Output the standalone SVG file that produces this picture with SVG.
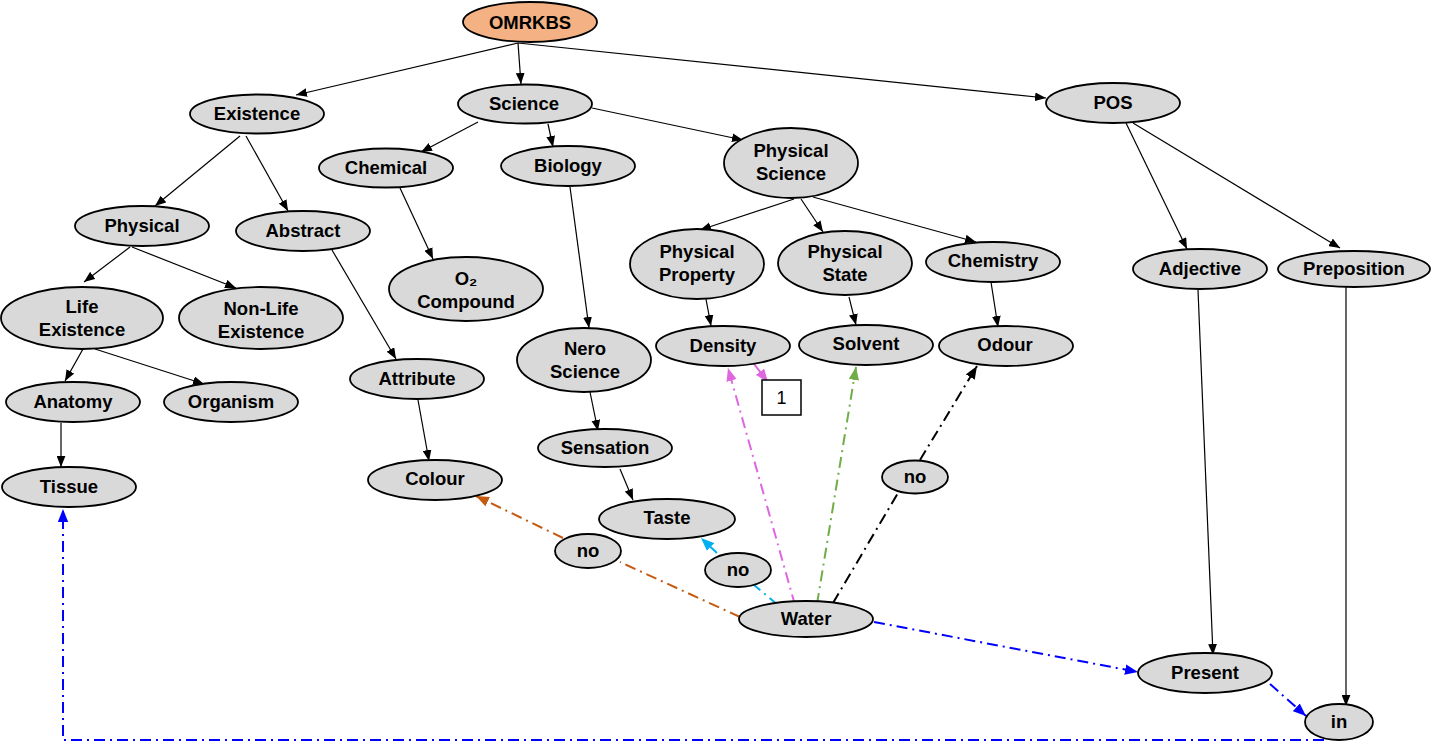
<svg xmlns="http://www.w3.org/2000/svg" width="1431" height="741" viewBox="0 0 1431 741">
<style>
.n ellipse{fill:#d9d9d9;stroke:#000;stroke-width:1.8}
.n text{font-family:"Liberation Sans",Arial,sans-serif;font-weight:bold;font-size:18.5px;text-anchor:middle;fill:#000}
.e line,.e polyline{fill:none}
.s{stroke:#000;stroke-width:1.2}
.d{stroke-width:2;stroke-dasharray:11 5 2 5}
</style>
<defs>
<marker id="ak" viewBox="0 0 10 8" refX="10" refY="4" markerWidth="11" markerHeight="9" markerUnits="userSpaceOnUse" orient="auto"><path d="M0,0L10,4L0,8z" fill="#000"/></marker>
<marker id="ap" viewBox="0 0 10 8" refX="10" refY="4" markerWidth="13" markerHeight="11" markerUnits="userSpaceOnUse" orient="auto"><path d="M0,0L10,4L0,8z" fill="#e066e0"/></marker>
<marker id="ag" viewBox="0 0 10 8" refX="10" refY="4" markerWidth="13" markerHeight="11" markerUnits="userSpaceOnUse" orient="auto"><path d="M0,0L10,4L0,8z" fill="#70ad47"/></marker>
<marker id="ac" viewBox="0 0 10 8" refX="10" refY="4" markerWidth="13" markerHeight="11" markerUnits="userSpaceOnUse" orient="auto"><path d="M0,0L10,4L0,8z" fill="#00b0f0"/></marker>
<marker id="ao" viewBox="0 0 10 8" refX="10" refY="4" markerWidth="13" markerHeight="11" markerUnits="userSpaceOnUse" orient="auto"><path d="M0,0L10,4L0,8z" fill="#c55a11"/></marker>
<marker id="ab" viewBox="0 0 10 8" refX="10" refY="4" markerWidth="13" markerHeight="11" markerUnits="userSpaceOnUse" orient="auto"><path d="M0,0L10,4L0,8z" fill="#0000ff"/></marker>
<marker id="akd" viewBox="0 0 10 8" refX="10" refY="4" markerWidth="13" markerHeight="11" markerUnits="userSpaceOnUse" orient="auto"><path d="M0,0L10,4L0,8z" fill="#000"/></marker>
</defs>
<g id="connectors" class="e">
<line class="s" x1="518" y1="43" x2="296" y2="95" marker-end="url(#ak)"/>
<line class="s" x1="518" y1="43" x2="521" y2="84" marker-end="url(#ak)"/>
<line class="s" x1="518" y1="43" x2="1046" y2="98" marker-end="url(#ak)"/>
<line class="s" x1="240" y1="136" x2="155" y2="206" marker-end="url(#ak)"/>
<line class="s" x1="246" y1="136" x2="288" y2="211" marker-end="url(#ak)"/>
<line class="s" x1="478" y1="122" x2="421" y2="152" marker-end="url(#ak)"/>
<line class="s" x1="548" y1="124" x2="553" y2="147" marker-end="url(#ak)"/>
<line class="s" x1="592" y1="108" x2="743" y2="140" marker-end="url(#ak)"/>
<line class="s" x1="400" y1="188" x2="433" y2="259" marker-end="url(#ak)"/>
<line class="s" x1="332" y1="250" x2="396" y2="359" marker-end="url(#ak)"/>
<line class="s" x1="130" y1="247" x2="84" y2="282" marker-end="url(#ak)"/>
<line class="s" x1="132" y1="247" x2="236" y2="288" marker-end="url(#ak)"/>
<line class="s" x1="83" y1="349" x2="65" y2="381" marker-end="url(#ak)"/>
<line class="s" x1="95" y1="349" x2="204" y2="384" marker-end="url(#ak)"/>
<line class="s" x1="61" y1="423" x2="61" y2="467" marker-end="url(#ak)"/>
<line class="s" x1="418" y1="400" x2="429" y2="461" marker-end="url(#ak)"/>
<line class="s" x1="570" y1="187" x2="589" y2="328" marker-end="url(#ak)"/>
<line class="s" x1="794" y1="199" x2="700" y2="230" marker-end="url(#ak)"/>
<line class="s" x1="801" y1="199" x2="823" y2="232" marker-end="url(#ak)"/>
<line class="s" x1="813" y1="197" x2="976" y2="242" marker-end="url(#ak)"/>
<line class="s" x1="706" y1="299" x2="711" y2="326" marker-end="url(#ak)"/>
<line class="s" x1="849" y1="297" x2="856" y2="325" marker-end="url(#ak)"/>
<line class="s" x1="991" y1="282" x2="998" y2="327" marker-end="url(#ak)"/>
<line class="s" x1="1126" y1="123" x2="1187" y2="249" marker-end="url(#ak)"/>
<line class="s" x1="1133" y1="123" x2="1340" y2="248" marker-end="url(#ak)"/>
<line class="s" x1="1198" y1="290" x2="1213" y2="655" marker-end="url(#ak)"/>
<line class="s" x1="1346" y1="287" x2="1346" y2="706" marker-end="url(#ak)"/>
<line class="s" x1="590" y1="392" x2="598" y2="431" marker-end="url(#ak)"/>
<line class="s" x1="620" y1="469" x2="633" y2="500" marker-end="url(#ak)"/>
<line class="d" stroke="#e066e0" x1="795" y1="605" x2="728" y2="368" marker-end="url(#ap)"/>
<line class="d" stroke="#e066e0" x1="754" y1="364" x2="768" y2="382" marker-end="url(#ap)"/>
<line class="d" stroke="#70ad47" x1="817" y1="604" x2="856" y2="367" marker-end="url(#ag)"/>
<line class="d" stroke="#000" x1="833" y1="603" x2="898" y2="493"/>
<line class="d" stroke="#000" x1="920" y1="460" x2="977" y2="366" marker-end="url(#akd)"/>
<line class="d" stroke="#00b0f0" x1="778" y1="605" x2="754" y2="585"/>
<line class="d" stroke="#00b0f0" x1="717" y1="553" x2="701" y2="538" marker-end="url(#ac)"/>
<line class="d" stroke="#c55a11" x1="740" y1="617" x2="620" y2="562"/>
<line class="d" stroke="#c55a11" x1="563" y1="538" x2="476" y2="496" marker-end="url(#ao)"/>
<line class="d" stroke="#0000ff" x1="874" y1="622" x2="1138" y2="672" marker-end="url(#ab)"/>
<line class="d" stroke="#0000ff" x1="1270" y1="684" x2="1306" y2="716" marker-end="url(#ab)"/>
<polyline class="d" stroke="#0000ff" points="1324,740 63,740 63,509" marker-end="url(#ab)"/>
</g>
<g id="OMRKBS" class="n"><ellipse cx="530" cy="22" rx="67" ry="20" style="fill:#f4b183"/><text x="530" y="28.5">OMRKBS</text></g>
<g id="Existence" class="n"><ellipse cx="257" cy="114" rx="67" ry="19.5"/><text x="257" y="120">Existence</text></g>
<g id="Science" class="n"><ellipse cx="525" cy="104" rx="67" ry="19.5"/><text x="524" y="110">Science</text></g>
<g id="POS" class="n"><ellipse cx="1113" cy="103" rx="67" ry="20"/><text x="1113" y="109">POS</text></g>
<g id="Chemical" class="n"><ellipse cx="386" cy="168" rx="67" ry="19.5"/><text x="386" y="174">Chemical</text></g>
<g id="Biology" class="n"><ellipse cx="568" cy="166" rx="67" ry="20"/><text x="568" y="172">Biology</text></g>
<g id="PhysicalScience" class="n"><ellipse cx="791" cy="163" rx="67" ry="35"/><text x="791" y="157">Physical</text><text x="791" y="180">Science</text></g>
<g id="Physical" class="n"><ellipse cx="142" cy="226" rx="67" ry="20"/><text x="142" y="232">Physical</text></g>
<g id="Abstract" class="n"><ellipse cx="303" cy="231" rx="67" ry="20"/><text x="303" y="237">Abstract</text></g>
<g id="LifeExistence" class="n"><ellipse cx="82" cy="318" rx="81" ry="31"/><text x="82" y="313">Life</text><text x="82" y="336">Existence</text></g>
<g id="NonLifeExistence" class="n"><ellipse cx="261" cy="318" rx="82" ry="31"/><text x="261" y="315">Non-Life</text><text x="261" y="338">Existence</text></g>
<g id="O2Compound" class="n"><ellipse cx="466" cy="289" rx="77" ry="32"/><text x="466" y="285">O₂</text><text x="466" y="308">Compound</text></g>
<g id="PhysicalProperty" class="n"><ellipse cx="697" cy="264" rx="67" ry="35"/><text x="697" y="258">Physical</text><text x="697" y="281">Property</text></g>
<g id="PhysicalState" class="n"><ellipse cx="845" cy="263" rx="67" ry="32"/><text x="845" y="258">Physical</text><text x="845" y="281">State</text></g>
<g id="Chemistry" class="n"><ellipse cx="993" cy="262" rx="67" ry="20"/><text x="993" y="267">Chemistry</text></g>
<g id="Adjective" class="n"><ellipse cx="1200" cy="269" rx="67" ry="20"/><text x="1200" y="275">Adjective</text></g>
<g id="Preposition" class="n"><ellipse cx="1354" cy="269" rx="76" ry="18"/><text x="1354" y="275">Preposition</text></g>
<g id="Density" class="n"><ellipse cx="723" cy="346" rx="67" ry="20"/><text x="723" y="352">Density</text></g>
<g id="Solvent" class="n"><ellipse cx="866" cy="345" rx="67" ry="20"/><text x="866" y="350">Solvent</text></g>
<g id="Odour" class="n"><ellipse cx="1006" cy="346" rx="67" ry="20"/><text x="1005" y="351">Odour</text></g>
<g id="NeroScience" class="n"><ellipse cx="584" cy="360" rx="67" ry="32"/><text x="585" y="355">Nero</text><text x="585" y="378">Science</text></g>
<g id="Attribute" class="n"><ellipse cx="417" cy="379" rx="67" ry="20"/><text x="417" y="385">Attribute</text></g>
<g id="Anatomy" class="n"><ellipse cx="73" cy="402" rx="67" ry="20"/><text x="73" y="408">Anatomy</text></g>
<g id="Organism" class="n"><ellipse cx="231" cy="402" rx="67" ry="20"/><text x="231" y="408">Organism</text></g>
<g id="Sensation" class="n"><ellipse cx="605" cy="448" rx="67" ry="19"/><text x="605" y="454">Sensation</text></g>
<g id="Tissue" class="n"><ellipse cx="69" cy="487" rx="67" ry="20"/><text x="69" y="493">Tissue</text></g>
<g id="Colour" class="n"><ellipse cx="435" cy="480" rx="67" ry="20"/><text x="435" y="485">Colour</text></g>
<g id="Taste" class="n"><ellipse cx="667" cy="519" rx="68" ry="20"/><text x="667" y="524">Taste</text></g>
<g id="no1" class="n"><ellipse cx="588" cy="551" rx="33" ry="17"/><text x="588" y="557">no</text></g>
<g id="no2" class="n"><ellipse cx="738" cy="570" rx="33" ry="17"/><text x="738" y="576">no</text></g>
<g id="no3" class="n"><ellipse cx="915" cy="477" rx="33" ry="16.5"/><text x="915" y="483">no</text></g>
<g id="Water" class="n"><ellipse cx="806" cy="619" rx="67" ry="18"/><text x="806" y="625">Water</text></g>
<g id="Present" class="n"><ellipse cx="1205" cy="673" rx="67" ry="20"/><text x="1205" y="679">Present</text></g>
<g id="in" class="n"><ellipse cx="1339" cy="722" rx="34" ry="18"/><text x="1339" y="728">in</text></g>
<g id="box1"><rect x="762" y="380" width="39" height="35" fill="#fff" stroke="#000" stroke-width="1.5"/><text x="781.5" y="404" font-family="Liberation Sans,Arial,sans-serif" font-size="18" text-anchor="middle">1</text></g>
</svg>
